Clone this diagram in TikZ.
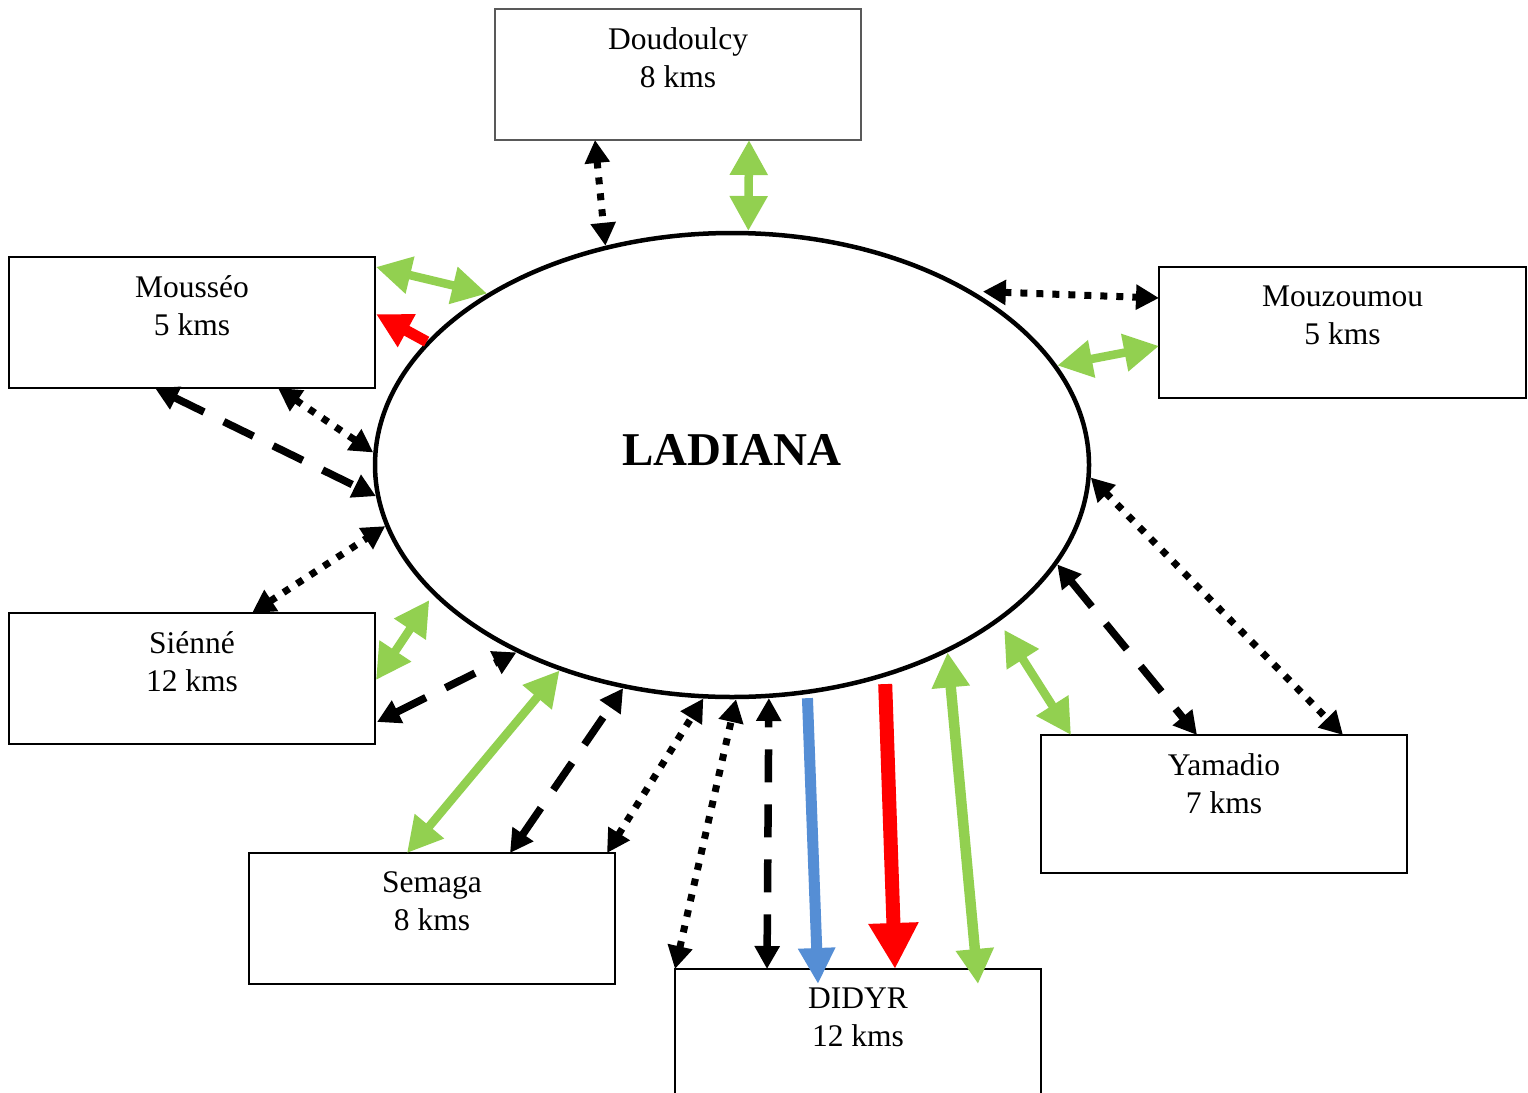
\documentclass[tikz,border=0pt]{standalone}
\usepackage{fontspec}
\setmainfont{Liberation Serif}
\usetikzlibrary{shapes.geometric,arrows.meta,calc}
\definecolor{lgreen}{HTML}{92D050}
\definecolor{lblue}{HTML}{558ED5}
\definecolor{lred}{HTML}{FF0000}
\tikzset{
  box/.style={draw=black, line width=2.5pt, minimum width=366pt, minimum height=131pt, inner sep=0pt, outer sep=0pt},
  lbl/.style={font=\fontsize{31.5}{38}\selectfont, align=center, inner sep=0pt, anchor=north},
  gtip/.tip={Triangle[length=35pt,width=36pt]},
  btip/.tip={Triangle[length=23pt,width=24pt]},
  grn/.style={draw=lgreen, line width=8.5pt, gtip-gtip},
  grnw/.style={draw=lgreen, line width=10.5pt, gtip-gtip},
  bdot/.style={draw=black, line width=7pt, dash pattern=on 7pt off 9pt, btip-btip},
  bdash/.style={draw=black, line width=7.5pt, dash pattern=on 33pt off 22pt, btip-btip},
  redsm/.style={draw=lred, line width=11pt, -{Triangle[length=35pt,width=35pt]}},
  redbig/.style={draw=lred, line width=14pt, -{Triangle[length=46pt,width=47pt]}},
  bluear/.style={draw=lblue, line width=11pt, -{Triangle[length=36pt,width=35pt]}}
}
\begin{document}
\begin{tikzpicture}[x=1pt,y=-1pt]
\useasboundingbox[fill=white] (0,0) rectangle (1528,1092);

% central ellipse
\node[ellipse, draw=black, line width=4.5pt, minimum width=714pt, minimum height=464pt, inner sep=0pt] (lad) at (732,465) {};
\node[font=\fontsize{47}{50}\selectfont\bfseries, inner sep=0pt] (ladtxt) at (732,450.5) {LADIANA};

% boxes
\node[box, draw=black!65, line width=1.3pt] (dou) at (678,74.5) {};
\node[lbl] (doutxt) at (678,27.5) {Doudoulcy\\8 kms};

\node[box] (mou) at (192,322.5) {};
\node[lbl] (moutxt) at (192,275.5) {Mousséo\\5 kms};

\node[box, minimum width=367pt] (mzm) at (1342.5,332.5) {};
\node[lbl] (mzmtxt) at (1342.5,285.5) {Mouzoumou\\5 kms};

\node[box] (sie) at (192,678.5) {};
\node[lbl] (sietxt) at (192,631.5) {Siénné\\12 kms};

\node[box] (sem) at (432,918.5) {};
\node[lbl] (semtxt) at (432,871.5) {Semaga\\8 kms};

\node[box] (did) at (858,1034.5) {};
\node[lbl] (didtxt) at (858,987.5) {DIDYR\\12 kms};

\node[box, minimum height=138pt] (yam) at (1224,804) {};
\node[lbl] (yamtxt) at (1224,753.5) {Yamadio\\7 kms};

% Doudoulcy
\draw[bdot] ($(dou.south west)+(100,0)$) -- (lad.120);
\draw[grn] ($(dou.south west)+(254,0)$) -- (lad.86);

% Mousseo
\draw[grn] ($(mou.north east)+(1,10)$) -- (lad.145);
\draw[redsm] (lad.158) -- ($(mou.north east)+(1,57)$);
\draw[bdash] ($(mou.south west)+(146,0)$) -- (lad.185);
\draw[bdot] ($(mou.south west)+(269,0)$) -- (lad.178);

% Mouzoumou
\draw[bdot] ($(lad.35)+(6,-2)$) -- ($(mzm.north west)+(0,31)$);
\draw[grn] (lad.17) -- ($(mzm.north west)+(0,79)$);

% Sienne
\draw[bdot] ($(sie.north west)+(243,0)$) -- (lad.190);
\draw[grn] ($(sie.north east)+(1,67)$) -- ($(lad.204)+(-6,3)$);
\draw[bdash] ($(sie.north east)+(2,109)$) -- (lad.221);

% Semaga
\draw[grn] ($(sem.north west)+(158,0)$) -- (lad.230);
\draw[bdash] ($(sem.north west)+(261,0)$) -- (lad.244);
\draw[bdot] ($(sem.north west)+(358,0)$) -- (lad.263);

% DIDYR
\draw[bdot] (did.north west) -- (lad.271);
\draw[bdash] ($(did.north west)+(92,0)$) -- (lad.279);
\draw[bluear] ($(lad.288)+(1,4)$) -- ($(did.north west)+(143,15)$);
\draw[redbig] ($(lad.305)+(4,6)$) -- ($(did.north west)+(220,0)$);
\draw[grnw] (lad.319) -- ($(did.north west)+(303,15)$);

% Yamadio
\draw[grn] ($(lad.329)+(8,6)$) -- ($(yam.north west)+(30,0)$);
\draw[bdash] (lad.343) -- ($(yam.north west)+(156,0)$);
\draw[bdot] (lad.358) -- ($(yam.north west)+(302,0)$);
\end{tikzpicture}
\end{document}
